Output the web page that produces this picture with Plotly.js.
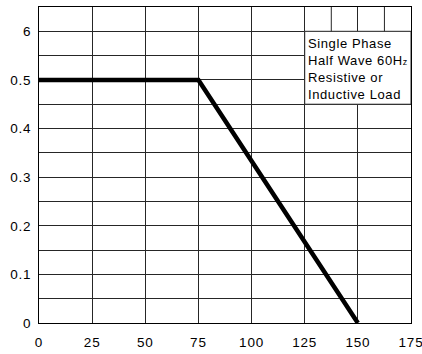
<!DOCTYPE html>
<html>
<head>
<meta charset="utf-8">
<script src="https://cdn.plot.ly/plotly-3.0.1.min.js"></script>
<style>
html,body{margin:0;padding:0;background:#fff;}
#chart{width:422px;height:354px;}
#chart .xtick text, #chart .ytick text{letter-spacing:0.8px;}
#chart .annotation-text{letter-spacing:0.6px;}
</style>
</head>
<body>
<div id="chart"></div>
<script>
// Derating curve data
const temperature = [0, 75, 150];
const current = [0.5, 0.5, 0];

// Tick labels
const xTickVals = [0, 25, 50, 75, 100, 125, 150, 175];
const xTickText = ["0", "25", "50", "75", "100", "125", "150", "175"];
const yTickVals = [0, 0.1, 0.2, 0.3, 0.4, 0.5, 0.6];
const yTickText = ["0", "0.1", "0.2", "0.3", "0.4", "0.5", "6"];

// Note box region and extra top-band grid lines
const noteBox = {x: [125, 175], y: [0.45, 0.6]};
const topBandGridX = [137.5, 162.5];
const noteLines = ["Single Phase", "Half Wave 60H<span style='font-size:9px'>z</span>", "Resistive or", "Inductive Load"];

const gridColor = "#262626";

const shapes = [{
  type: "rect", xref: "x", yref: "y", layer: "between",
  x0: noteBox.x[0], x1: noteBox.x[1], y0: noteBox.y[0], y1: noteBox.y[1],
  fillcolor: "#ffffff", line: {color: gridColor, width: 1}
}];
topBandGridX.forEach(function (xv) {
  shapes.push({type: "line", xref: "x", yref: "y", layer: "between",
    x0: xv, x1: xv, y0: 0.6, y1: 0.65, line: {color: gridColor, width: 1}});
});

const data = [{
  x: temperature, y: current, type: "scatter", mode: "lines",
  line: {color: "#000000", width: 4.5}, cliponaxis: false, hoverinfo: "skip"
}];

const layout = {
  width: 422, height: 354,
  margin: {l: 39, r: 11, t: 7, b: 31, pad: 0},
  paper_bgcolor: "#ffffff", plot_bgcolor: "#ffffff",
  showlegend: false,
  font: {family: "Liberation Sans, Arial, sans-serif", size: 13.5, color: "#000000"},
  xaxis: {
    range: [0, 175], tickmode: "array", tickvals: xTickVals, ticktext: xTickText,
    showgrid: true, gridcolor: gridColor, gridwidth: 1,
    showline: true, mirror: true, linecolor: "#000000", linewidth: 1,
    zeroline: false, ticks: "", ticklabelstandoff: 7, ticklabeloverflow: "allow",
    fixedrange: true
  },
  yaxis: {
    range: [0, 0.65], tickmode: "array", tickvals: yTickVals, ticktext: yTickText,
    showgrid: true, gridcolor: gridColor, gridwidth: 1,
    minor: {dtick: 0.05, tick0: 0, showgrid: true, gridcolor: gridColor, gridwidth: 1, ticks: ""},
    showline: true, mirror: true, linecolor: "#000000", linewidth: 1,
    zeroline: false, ticks: "", ticklabelstandoff: 4, ticklabeloverflow: "allow",
    fixedrange: true
  },
  shapes: shapes,
  annotations: [{
    xref: "x", yref: "y", x: noteBox.x[0], y: noteBox.y[1],
    xanchor: "left", yanchor: "top", xshift: 1, yshift: -3,
    align: "left", showarrow: false,
    text: noteLines.join("<br>"),
    font: {family: "Liberation Sans, Arial, sans-serif", size: 13, color: "#000000"}
  }]
};

Plotly.newPlot("chart", data, layout, {staticPlot: true, displayModeBar: false});
</script>
</body>
</html>
